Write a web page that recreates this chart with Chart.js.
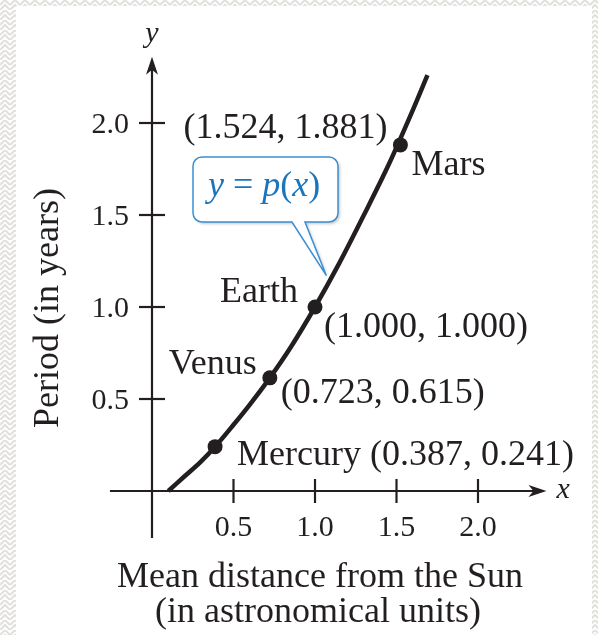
<!DOCTYPE html>
<html>
<head>
<meta charset="utf-8">
<script src="https://cdn.jsdelivr.net/npm/chart.js@4.4.1/dist/chart.umd.min.js"></script>
<style>
  html, body { margin: 0; padding: 0; background: #fff; }
  #frame {
    position: relative;
    width: 598px;
    height: 635px;
    overflow: hidden;
    background-color: #fff;
    background-image: url("data:image/svg+xml,%3Csvg xmlns='http://www.w3.org/2000/svg' width='10' height='10'%3E%3Cpath d='M0 5L5 0L10 5M0 10L5 5L10 10' fill='none' stroke='%23e2e0dc' stroke-width='2'/%3E%3C/svg%3E");
  }
  #paper {
    position: absolute;
    left: 16px; top: 6px; right: 6px; bottom: 0;
    background: #fff;
  }
  #orbitChart { position: absolute; left: 0; top: 0; }
</style>
</head>
<body>
<div id="frame">
  <div id="paper"></div>
  <canvas id="orbitChart" width="598" height="635"></canvas>
</div>
<script>
// Planets: mean distance from the Sun (AU) and orbital period (years)
const planets = ["Mercury", "Venus", "Earth", "Mars"];
const distanceAU = [0.387, 0.723, 1.000, 1.524];
const periodYears = [0.241, 0.615, 1.000, 1.881];

// Points along the fitted curve y = p(x)
const curveX = [0.10, 0.20, 0.30, 0.387, 0.50, 0.60, 0.723, 0.85, 1.00, 1.15, 1.30, 1.45, 1.60, 1.69];
const curveY = [0.00, 0.08, 0.16, 0.241, 0.36, 0.47, 0.615, 0.78, 1.00, 1.24, 1.50, 1.77, 2.07, 2.26];

const xTicks = ["0.5", "1.0", "1.5", "2.0"];
const yTicks = ["0.5", "1.0", "1.5", "2.0"];

const INK = "#231f20";
const BLUE = "#1b75bb";
const SERIF = '"Liberation Serif", "Times New Roman", serif';

// where each planet's name and coordinates sit around its dot
const labelLayout = {
  Mercury: { name: [22, 18, "left"], coord: null },
  Venus: { name: [-13, -4, "right"], coord: [11, 25, "left"] },
  Earth: { name: [-17, -5, "right"], coord: [9, 30, "left"] },
  Mars: { name: [11, 30, "left"], coord: [-13, -7, "right"] },
};

const fmt = (v) => v.toFixed(3);

const axesPlugin = {
  id: "axesPlugin",
  beforeDatasetsDraw(chart) {
    const ctx = chart.ctx;
    const xs = chart.scales.x, ys = chart.scales.y;
    const ox = xs.getPixelForValue(0), oy = ys.getPixelForValue(0);

    ctx.save();
    ctx.strokeStyle = INK;
    ctx.fillStyle = INK;
    ctx.lineWidth = 2.2;

    // x axis
    const xl = xs.getPixelForValue(-0.258), xr = xs.getPixelForValue(2.42);
    ctx.beginPath();
    ctx.moveTo(xl, oy);
    ctx.lineTo(xr - 8, oy);
    ctx.stroke();
    arrow(ctx, xr, oy, 1, 0);

    // y axis
    const yb = ys.getPixelForValue(-0.255), yt = ys.getPixelForValue(2.36);
    ctx.beginPath();
    ctx.moveTo(ox, yb);
    ctx.lineTo(ox, yt + 8);
    ctx.stroke();
    arrow(ctx, ox, yt, 0, -1);

    // tick marks and tick labels
    ctx.font = "30px " + SERIF;
    ctx.textAlign = "center";
    ctx.textBaseline = "alphabetic";
    xTicks.forEach((t) => {
      const px = xs.getPixelForValue(parseFloat(t));
      ctx.beginPath();
      ctx.moveTo(px, oy - 12);
      ctx.lineTo(px, oy + 12);
      ctx.stroke();
      ctx.fillText(t, px, oy + 45);
    });
    ctx.textAlign = "right";
    yTicks.forEach((t) => {
      const py = ys.getPixelForValue(parseFloat(t));
      ctx.beginPath();
      ctx.moveTo(ox - 13, py);
      ctx.lineTo(ox + 13, py);
      ctx.stroke();
      ctx.fillText(t, ox - 23, py + 10);
    });

    // axis letters
    ctx.font = "italic 30px " + SERIF;
    ctx.textAlign = "center";
    ctx.fillText("y", ox, yt - 15);
    ctx.textAlign = "left";
    ctx.fillText("x", xr + 10, oy + 7);

    // axis titles
    ctx.font = "36px " + SERIF;
    ctx.textAlign = "center";
    ctx.fillText("Mean distance from the Sun", 320, 587);
    ctx.fillText("(in astronomical units)", 318, 622);
    ctx.save();
    ctx.translate(58, 308);
    ctx.rotate(-Math.PI / 2);
    ctx.fillText("Period (in years)", 0, 0);
    ctx.restore();

    ctx.restore();
  },
  afterDatasetsDraw(chart) {
    const ctx = chart.ctx;
    const xs = chart.scales.x, ys = chart.scales.y;
    ctx.save();
    ctx.fillStyle = INK;
    ctx.font = "36px " + SERIF;
    ctx.textBaseline = "alphabetic";

    planets.forEach((name, i) => {
      const px = xs.getPixelForValue(distanceAU[i]);
      const py = ys.getPixelForValue(periodYears[i]);
      const lay = labelLayout[name];
      const coord = "(" + fmt(distanceAU[i]) + ", " + fmt(periodYears[i]) + ")";
      const nameText = lay.coord ? name : name + " " + coord;
      ctx.textAlign = lay.name[2];
      ctx.fillText(nameText, px + lay.name[0], py + lay.name[1]);
      if (lay.coord) {
        ctx.textAlign = lay.coord[2];
        ctx.fillText(coord, px + lay.coord[0], py + lay.coord[1]);
      }
    });

    // callout naming the curve
    const tipX = xs.getPixelForValue(1.07), tipY = ys.getPixelForValue(1.17);
    const bx = 193, by = 157, bw = 145, bh = 65, r = 9;
    const pathBox = () => {
      ctx.beginPath();
      ctx.moveTo(bx + r, by);
      ctx.lineTo(bx + bw - r, by);
      ctx.arcTo(bx + bw, by, bx + bw, by + r, r);
      ctx.lineTo(bx + bw, by + bh - r);
      ctx.arcTo(bx + bw, by + bh, bx + bw - r, by + bh, r);
      ctx.lineTo(305, by + bh);
      ctx.lineTo(tipX, tipY);
      ctx.lineTo(292, by + bh);
      ctx.lineTo(bx + r, by + bh);
      ctx.arcTo(bx, by + bh, bx, by + bh - r, r);
      ctx.lineTo(bx, by + r);
      ctx.arcTo(bx, by, bx + r, by, r);
      ctx.closePath();
    };
    ctx.save();
    ctx.shadowColor = "rgba(0,0,0,0.22)";
    ctx.shadowOffsetX = 2;
    ctx.shadowOffsetY = 2;
    ctx.shadowBlur = 3;
    pathBox();
    ctx.fillStyle = "#fff";
    ctx.fill();
    ctx.restore();
    pathBox();
    ctx.strokeStyle = "#3a8fd3";
    ctx.lineWidth = 1.5;
    ctx.stroke();

    // y = p(x) with italic letters
    ctx.fillStyle = BLUE;
    ctx.textAlign = "left";
    const parts = [["y", true], [" = ", false], ["p", true], ["(", false], ["x", true], [")", false]];
    let tx = 208;
    parts.forEach(([s, it]) => {
      ctx.font = (it ? "italic " : "") + "36px " + SERIF;
      ctx.fillText(s, tx, 196);
      tx += ctx.measureText(s).width;
    });

    ctx.restore();
  },
};

function arrow(ctx, x, y, dx, dy) {
  // sharp arrowhead with a notched back
  const len = 18, half = 6, notch = 13;
  const nx = -dy, ny = dx;
  ctx.beginPath();
  ctx.moveTo(x, y);
  ctx.lineTo(x - dx * len + nx * half, y - dy * len + ny * half);
  ctx.lineTo(x - dx * notch, y - dy * notch);
  ctx.lineTo(x - dx * len - nx * half, y - dy * len - ny * half);
  ctx.closePath();
  ctx.fill();
}

const orbitCtx = document.getElementById("orbitChart");
new Chart(orbitCtx, {
  type: "scatter",
  data: {
    datasets: [
      {
        label: "p(x)",
        data: curveX.map((x, i) => ({ x: x, y: curveY[i] })),
        showLine: true,
        borderColor: INK,
        borderWidth: 4.5,
        pointRadius: 0,
        cubicInterpolationMode: "monotone",
        fill: false,
      },
      {
        label: "Planets",
        data: distanceAU.map((x, i) => ({ x: x, y: periodYears[i] })),
        backgroundColor: INK,
        borderColor: INK,
        pointRadius: 7.5,
        borderWidth: 0,
      },
    ],
  },
  options: {
    responsive: false,
    animation: false,
    devicePixelRatio: 1,
    layout: { padding: { left: 103.1, right: 38.5, top: 31, bottom: 88.8 } },
    plugins: { legend: { display: false }, tooltip: { enabled: false } },
    scales: {
      x: { type: "linear", min: -0.3, max: 2.5, display: false },
      y: { type: "linear", min: -0.3, max: 2.5, display: false },
    },
  },
  plugins: [axesPlugin],
});
</script>
</body>
</html>
